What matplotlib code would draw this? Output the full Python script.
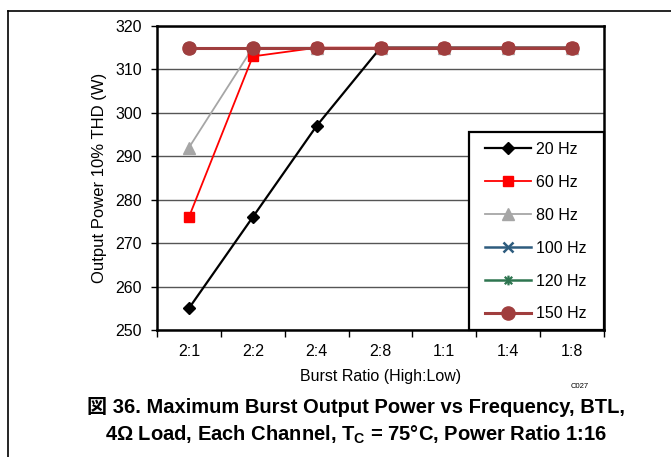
import matplotlib
matplotlib.use("Agg")
import matplotlib.pyplot as plt
from matplotlib.path import Path
from matplotlib.lines import Line2D
from matplotlib.patches import Rectangle
import numpy as np

categories = ["2:1", "2:2", "2:4", "2:8", "1:1", "1:4", "1:8"]
p20 = [255, 276, 297, 315, 315, 315, 315]
p60 = [276, 313, 315, 315, 315, 315, 315]
p80 = [292, 315, 315, 315, 315, 315, 315]
p100 = [315, 315, 315, 315, 315, 315, 315]
p120 = [315, 315, 315, 315, 315, 315, 315]
p150 = [315, 315, 315, 315, 315, 315, 315]
series_labels = ["20 Hz", "60 Hz", "80 Hz", "100 Hz", "120 Hz", "150 Hz"]
yticks = [250, 260, 270, 280, 290, 300, 310, 320]

plt.rcParams['font.family'] = ['Liberation Sans', 'Noto Sans CJK JP', 'DejaVu Sans']

W, H = 671, 457
fig = plt.figure(figsize=(W / 100, H / 100), dpi=100)
ax = fig.add_axes([157 / W, 1 - 330 / H, (604 - 157) / W, (330 - 26) / H])

x = np.arange(len(categories))

star = Path([(-1, -1), (1, 1), (-1, 1), (1, -1), (0, -1.3), (0, 1.3)],
            [Path.MOVETO, Path.LINETO, Path.MOVETO, Path.LINETO, Path.MOVETO, Path.LINETO])

ax.plot(x, p20, color='black', lw=1.6, marker='D', ms=6, mfc='black', mec='black',
        label=series_labels[0], zorder=6)
ax.plot(x, p80, color='#A6A6A6', lw=1.3, marker='^', ms=8, mfc='#A6A6A6', mec='#A6A6A6',
        label=series_labels[2], zorder=4)
ax.plot(x, p60, color='#FF0000', lw=1.3, marker='s', ms=7, mfc='#FF0000', mec='#FF0000',
        label=series_labels[1], zorder=5)
ax.plot(x, p100, color='#2E5C7E', lw=1.8, marker='x', ms=7, mew=1.8,
        label=series_labels[3], zorder=3)
ax.plot(x, p120, color='#2E7550', lw=1.8, marker=star, ms=7, mew=1.6, fillstyle='none',
        label=series_labels[4], zorder=3)
ax.plot(x, p150, color='#A03E3E', lw=2.2, marker='o', ms=9.5, mfc='#A03E3E', mec='#A03E3E',
        label=series_labels[5], zorder=7)

ax.set_xlim(-0.5, len(categories) - 0.5)
ax.set_ylim(250, 320)
ax.set_yticks(yticks)
ax.set_xticks(x)
ax.set_xticklabels(categories)
ax.set_xticks(np.arange(-0.5, len(categories), 1.0), minor=True)
ax.tick_params(axis='x', which='major', length=0, pad=10, labelsize=11.5)
ax.tick_params(axis='x', which='minor', length=5, width=1, direction='out')
ax.tick_params(axis='y', which='major', length=4, width=1, pad=7, labelsize=11.5)
ax.yaxis.grid(True, color='#555555', lw=1)
ax.set_axisbelow(True)
for s in ax.spines.values():
    s.set_linewidth(1.8)
    s.set_color('black')

ax.set_xlabel("Burst Ratio (High:Low)", fontsize=11.5, labelpad=7)
ax.set_ylabel("Output Power 10% THD (W)", fontsize=12, labelpad=6)

# legend frame drawn separately
fig.add_artist(Rectangle((469 / W, 1 - 330 / H), (604 - 469) / W, (330 - 132) / H,
                         transform=fig.transFigure, facecolor='white',
                         edgecolor='black', lw=1.6, zorder=9))

h, l = ax.get_legend_handles_labels()
order = [l.index(s) for s in series_labels]
leg = fig.legend([h[i] for i in order], [l[i] for i in order],
                 loc='upper left', bbox_to_anchor=(485 / W, 1 - 142 / H),
                 bbox_transform=fig.transFigure, borderaxespad=0,
                 frameon=False, fontsize=11.5,
                 labelspacing=1.12, handlelength=2.9, handletextpad=0.3,
                 borderpad=0)
leg.set_zorder(10)

fig.text(580 / W, 1 - 386 / H, "C027", fontsize=5.5, ha='center', va='center')
fig.text(356 / W, 1 - 407 / H, "図 36. Maximum Burst Output Power vs Frequency, BTL,",
         fontsize=14.5, fontweight='bold', ha='center', va='center')
fig.text(356 / W, 1 - 435 / H,
         r"4Ω Load, Each Channel, T$_\mathregular{C}$ = 75°C, Power Ratio 1:16",
         fontsize=14.5, fontweight='bold', ha='center', va='center',
         family='Liberation Sans')

fig.add_artist(Line2D([8 / W, 8 / W], [0, 1 - 11 / H], color='black', lw=1.2,
                      transform=fig.transFigure))
fig.add_artist(Line2D([8 / W, 1], [1 - 11 / H, 1 - 11 / H], color='black', lw=1.2,
                      transform=fig.transFigure))

fig.savefig("out.png", dpi=100)
